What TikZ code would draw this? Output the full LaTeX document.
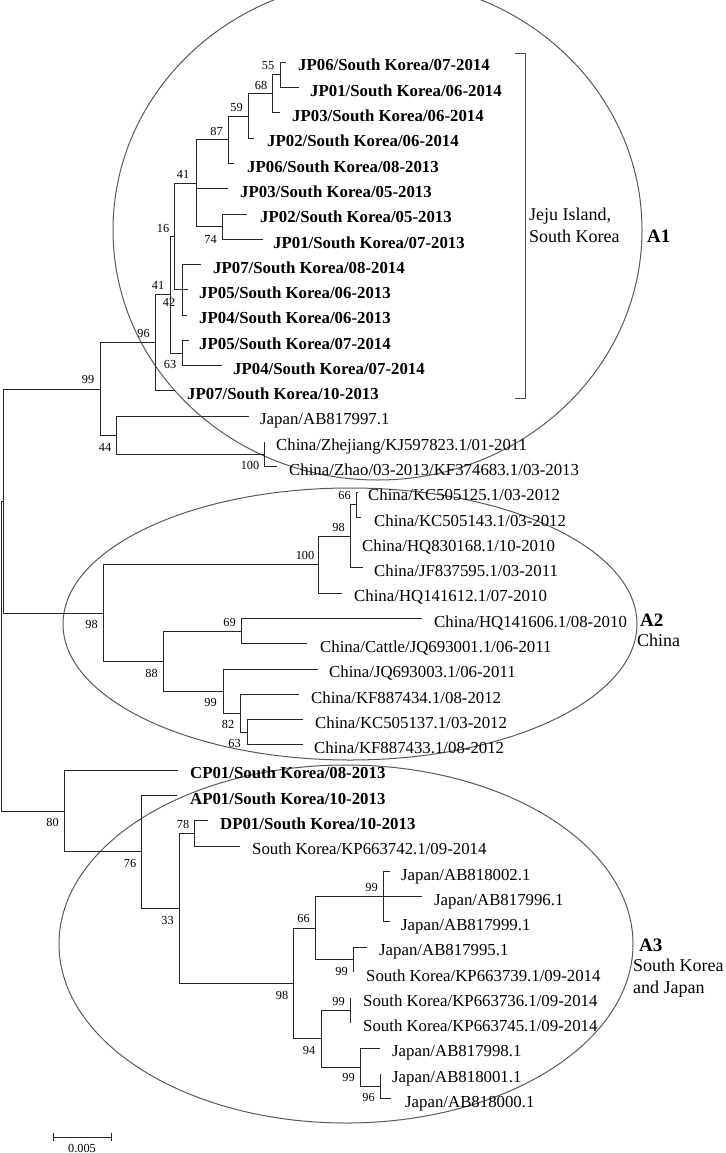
\documentclass[tikz,border=0pt]{standalone}
\usepackage{fontspec}
\setmainfont{Liberation Serif}
\begin{document}
\begin{tikzpicture}[x=1pt,y=-1pt,
  br/.style={line width=0.9pt, draw=black!85},
  lab/.style={anchor=west, inner sep=0pt, text height=17.4pt, text depth=0pt, font=\fontsize{16.8}{20}\selectfont},
  blab/.style={lab, font=\fontsize{16.8}{20}\selectfont\bfseries},
  bs/.style={inner sep=0pt, font=\fontsize{12.3}{14}\selectfont},
  clade/.style={anchor=base west, inner sep=0pt, font=\fontsize{19}{22}\selectfont\bfseries},
  region/.style={anchor=base west, inner sep=0pt, font=\fontsize{18}{22}\selectfont},
  oval/.style={line width=1pt, draw=black!65},
  bracketline/.style={line width=0.8pt, draw=black!70}]
\useasboundingbox (0,0) rectangle (725,1153);
\clip (0,0) rectangle (725,1153);

% ---------- clade ellipses ----------
\draw[oval] (377.5,230) ellipse [x radius=264.5, y radius=250];
\draw[oval] (350,624) ellipse [x radius=287, y radius=136];
\draw[oval] (346,944) ellipse [x radius=287, y radius=179];

% ---------- leaf tips ----------
\coordinate (l0) at (286,62.3);
\coordinate (l1) at (299,87.6);
\coordinate (l2) at (280,112.9);
\coordinate (l3) at (254,138.1);
\coordinate (l4) at (234,163.4);
\coordinate (l5) at (228,188.7);
\coordinate (l6) at (247,214.0);
\coordinate (l7) at (263,239.3);
\coordinate (l8) at (201,264.5);
\coordinate (l9) at (188,289.8);
\coordinate (l10) at (187,315.1);
\coordinate (l11) at (189,340.4);
\coordinate (l12) at (222,365.7);
\coordinate (l13) at (175,390.9);
\coordinate (l14) at (249,416.2);
\coordinate (l15) at (264,441.5);
\coordinate (l16) at (277,466.8);
\coordinate (l17) at (358,492.1);
\coordinate (l18) at (361,517.3);
\coordinate (l19) at (350,542.6);
\coordinate (l20) at (363,567.9);
\coordinate (l21) at (342,593.2);
\coordinate (l22) at (422,618.5);
\coordinate (l23) at (307,643.7);
\coordinate (l24) at (318,669.0);
\coordinate (l25) at (299,694.3);
\coordinate (l26) at (303,719.6);
\coordinate (l27) at (303,744.9);
\coordinate (l28) at (178,770.1);
\coordinate (l29) at (177,795.4);
\coordinate (l30) at (208,820.7);
\coordinate (l31) at (240,846.0);
\coordinate (l32) at (390,871.3);
\coordinate (l33) at (422,896.5);
\coordinate (l34) at (390,921.8);
\coordinate (l35) at (367,947.1);
\coordinate (l36) at (353,972.4);
\coordinate (l37) at (350,997.7);
\coordinate (l38) at (350,1022.9);
\coordinate (l39) at (380,1048.2);
\coordinate (l40) at (380,1073.5);
\coordinate (l41) at (391,1098.8);

% ---------- internal nodes ----------
\coordinate (n55) at (280,74.9);
\coordinate (n68) at (272,93.9);
\coordinate (n59) at (248,116.0);
\coordinate (n87) at (228,139.7);
\coordinate (n74) at (222,226.6);
\coordinate (n41a) at (196,183.2);
\coordinate (n42) at (182,289.8);
\coordinate (n16) at (174,236.5);
\coordinate (n63a) at (182,353.0);
\coordinate (n41b) at (170,294.8);
\coordinate (n96) at (155,342.9);
\coordinate (n100a) at (264,454.1);
\coordinate (n44) at (116,435.2);
\coordinate (n99a) at (100,389.1);
\coordinate (n66a) at (356,504.7);
\coordinate (n98b) at (350,536.3);
\coordinate (n100b) at (318,564.8);
\coordinate (n69) at (241,631.1);
\coordinate (n63b) at (247,732.2);
\coordinate (n82) at (240,713.3);
\coordinate (n99b) at (223,691.2);
\coordinate (n88) at (163,661.1);
\coordinate (n98a) at (103,613.0);
\coordinate (r1) at (3,501.0);
\coordinate (n78) at (194,833.3);
\coordinate (n99c) at (383,896.5);
\coordinate (n99d) at (353,959.7);
\coordinate (n66b) at (315,928.1);
\coordinate (n99e) at (350,1010.3);
\coordinate (n96b) at (380,1086.1);
\coordinate (n99f) at (360,1067.2);
\coordinate (n94) at (321,1038.7);
\coordinate (n98c) at (293,983.4);
\coordinate (n33) at (179,908.4);
\coordinate (n76) at (141,851.9);
\coordinate (n80) at (64,811.0);
\coordinate (root) at (1,656.0);

% ---------- branches ----------
\foreach \p/\c in {n55/l0, n55/l1, n68/n55, n68/l2, n59/n68, n59/l3, n87/n59, n87/l4,
  n41a/n87, n41a/l5, n41a/n74, n74/l6, n74/l7, n16/n41a, n16/n42,
  n42/l8, n42/l9, n42/l10, n41b/n16, n41b/n63a, n63a/l11, n63a/l12,
  n96/n41b, n96/l13, n99a/n96, n99a/n44, n44/l14, n44/n100a, n100a/l15, n100a/l16,
  r1/n99a, r1/n98a, n98a/n100b, n98a/n88, n100b/n98b, n100b/l21,
  n98b/n66a, n98b/l19, n98b/l20, n66a/l17, n66a/l18,
  n88/n69, n88/n99b, n69/l22, n69/l23, n99b/l24, n99b/n82, n82/l25, n82/n63b,
  n63b/l26, n63b/l27,
  root/r1, root/n80, n80/l28, n80/n76, n76/l29, n76/n33, n33/n78, n33/n98c,
  n78/l30, n78/l31, n98c/n66b, n98c/n94, n66b/n99c, n66b/n99d,
  n99c/l32, n99c/l33, n99c/l34, n99d/l35, n99d/l36, n94/n99e, n94/n99f,
  n99e/l37, n99e/l38, n99f/l39, n99f/n96b, n96b/l40, n96b/l41}
  \draw[br] (\p) |- (\c);

% ---------- leaf labels ----------
\node[blab] (t0) at (298,62.3) {JP06/South Korea/07-2014};
\node[blab] (t1) at (310,87.6) {JP01/South Korea/06-2014};
\node[blab] (t2) at (292,112.9) {JP03/South Korea/06-2014};
\node[blab] (t3) at (267,138.1) {JP02/South Korea/06-2014};
\node[blab] (t4) at (247,163.4) {JP06/South Korea/08-2013};
\node[blab] (t5) at (240,188.7) {JP03/South Korea/05-2013};
\node[blab] (t6) at (260,214.0) {JP02/South Korea/05-2013};
\node[blab] (t7) at (273,239.3) {JP01/South Korea/07-2013};
\node[blab] (t8) at (213,264.5) {JP07/South Korea/08-2014};
\node[blab] (t9) at (199,289.8) {JP05/South Korea/06-2013};
\node[blab] (t10) at (199,315.1) {JP04/South Korea/06-2013};
\node[blab] (t11) at (199,340.4) {JP05/South Korea/07-2014};
\node[blab] (t12) at (233,365.7) {JP04/South Korea/07-2014};
\node[blab] (t13) at (187,390.9) {JP07/South Korea/10-2013};
\node[lab] (t14) at (260,416.2) {Japan/AB817997.1};
\node[lab] (t15) at (276,441.5) {China/Zhejiang/KJ597823.1/01-2011};
\node[lab] (t16) at (289,466.8) {China/Zhao/03-2013/KF374683.1/03-2013};
\node[lab] (t17) at (368,492.1) {China/KC505125.1/03-2012};
\node[lab] (t18) at (374,517.3) {China/KC505143.1/03-2012};
\node[lab] (t19) at (362,542.6) {China/HQ830168.1/10-2010};
\node[lab] (t20) at (374,567.9) {China/JF837595.1/03-2011};
\node[lab] (t21) at (354,593.2) {China/HQ141612.1/07-2010};
\node[lab] (t22) at (434,618.5) {China/HQ141606.1/08-2010};
\node[lab] (t23) at (320,643.7) {China/Cattle/JQ693001.1/06-2011};
\node[lab] (t24) at (329,669.0) {China/JQ693003.1/06-2011};
\node[lab] (t25) at (311,694.3) {China/KF887434.1/08-2012};
\node[lab] (t26) at (315,719.6) {China/KC505137.1/03-2012};
\node[lab] (t27) at (314,744.9) {China/KF887433.1/08-2012};
\node[blab] (t28) at (190,770.1) {CP01/South Korea/08-2013};
\node[blab] (t29) at (190,795.4) {AP01/South Korea/10-2013};
\node[blab] (t30) at (220,820.7) {DP01/South Korea/10-2013};
\node[lab] (t31) at (252,846.0) {South Korea/KP663742.1/09-2014};
\node[lab] (t32) at (401,871.3) {Japan/AB818002.1};
\node[lab] (t33) at (434,896.5) {Japan/AB817996.1};
\node[lab] (t34) at (401,921.8) {Japan/AB817999.1};
\node[lab] (t35) at (379,947.1) {Japan/AB817995.1};
\node[lab] (t36) at (366,972.4) {South Korea/KP663739.1/09-2014};
\node[lab] (t37) at (363,997.7) {South Korea/KP663736.1/09-2014};
\node[lab] (t38) at (363,1022.9) {South Korea/KP663745.1/09-2014};
\node[lab] (t39) at (392,1048.2) {Japan/AB817998.1};
\node[lab] (t40) at (392,1073.5) {Japan/AB818001.1};
\node[lab] (t41) at (405,1098.8) {Japan/AB818000.1};

% ---------- bootstrap values ----------
\node[bs] (b55) at (268,66) {55};
\node[bs] (b68) at (261,85) {68};
\node[bs] (b59) at (236.5,107.5) {59};
\node[bs] (b87) at (216.5,131) {87};
\node[bs] (b41a) at (183,174.5) {41};
\node[bs] (b74) at (210.5,239) {74};
\node[bs] (b16) at (163,228) {16};
\node[bs] (b41b) at (158,285) {41};
\node[bs] (b42) at (169,302) {42};
\node[bs] (b96) at (143.5,333.5) {96};
\node[bs] (b63a) at (170,364.5) {63};
\node[bs] (b99a) at (88,379.5) {99};
\node[bs] (b44) at (105,447.5) {44};
\node[bs] (b100a) at (250,465.5) {100};
\node[bs] (b66a) at (344.5,495.5) {66};
\node[bs] (b98b) at (338.5,527.5) {98};
\node[bs] (b100b) at (305,555.5) {100};
\node[bs] (b98a) at (91.5,624.5) {98};
\node[bs] (b69) at (229.5,622) {69};
\node[bs] (b88) at (151.5,673) {88};
\node[bs] (b99b) at (210.5,702) {99};
\node[bs] (b82) at (228,724.5) {82};
\node[bs] (b63b) at (234.5,743.5) {63};
\node[bs] (b80) at (52.5,822.5) {80};
\node[bs] (b76) at (130,863.5) {76};
\node[bs] (b78) at (183,824.5) {78};
\node[bs] (b33) at (167.5,920) {33};
\node[bs] (b66b) at (303.5,918.5) {66};
\node[bs] (b99c) at (371.5,887.5) {99};
\node[bs] (b99d) at (341.5,971.5) {99};
\node[bs] (b98c) at (282,995.5) {98};
\node[bs] (b99e) at (338.5,1001.5) {99};
\node[bs] (b94) at (309,1050.5) {94};
\node[bs] (b99f) at (348.5,1077.5) {99};
\node[bs] (b96b) at (368.5,1097.5) {96};

% ---------- bracket and clade labels ----------
\coordinate (bt) at (515,53);
\coordinate (bb) at (515,398);
\draw[bracketline] (bt) -- ++(10,0) |- (bb);
\node[region] (jeju1) at (529,220.5) {Jeju Island,};
\node[region] (jeju2) at (529,242.3) {South Korea};
\node[clade] (A1) at (647,242) {A1};
\node[clade] (A2) at (640,626) {A2};
\node[region] (china) at (637,646.5) {China};
\node[clade] (A3) at (639,951.5) {A3};
\node[region] (sk) at (633,971.5) {South Korea};
\node[region] (jp) at (633,993) {and Japan};

% ---------- scale bar ----------
\coordinate (s1) at (53,1137);
\coordinate (s2) at (111,1137);
\draw[br] (s1) -- (s2);
\draw[br] ([yshift=4pt]s1) -- ([yshift=-4pt]s1);
\draw[br] ([yshift=4pt]s2) -- ([yshift=-4pt]s2);
\node[bs] (sl) at (82,1148) {0.005};
\end{tikzpicture}
\end{document}
